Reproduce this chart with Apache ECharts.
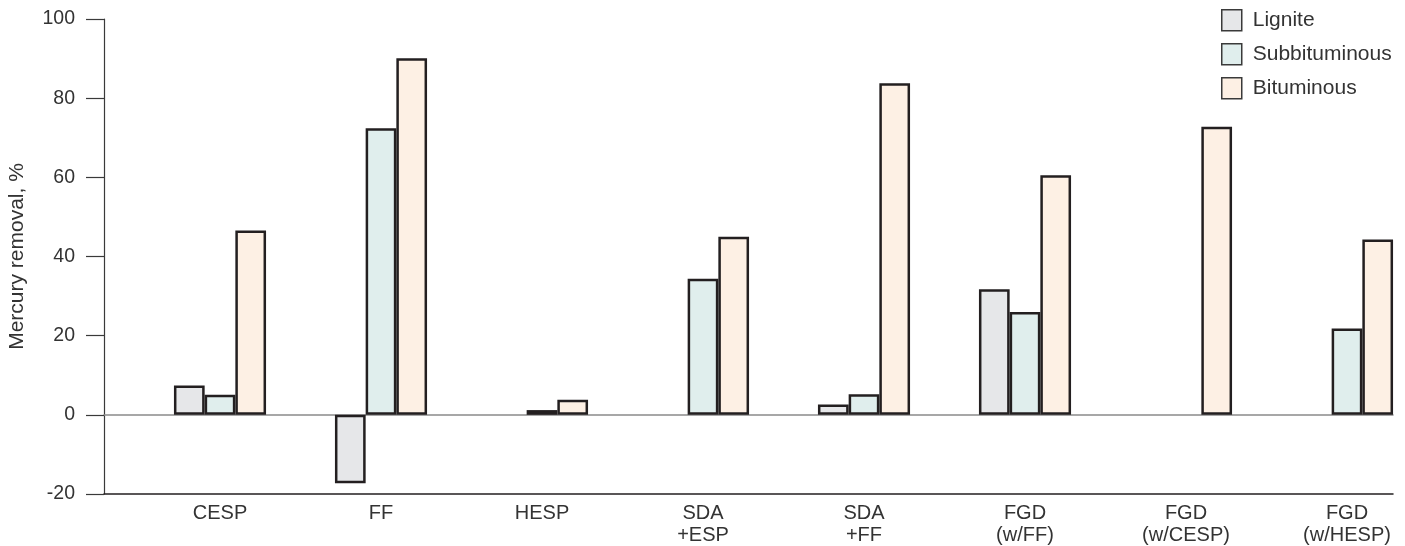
<!DOCTYPE html>
<html>
<head>
<meta charset="utf-8">
<script src="https://cdn.jsdelivr.net/npm/echarts@6/dist/echarts.min.js"></script>
<style>
  html, body { margin: 0; padding: 0; background: #ffffff; }
  #chart { width: 1405px; height: 546px; }
</style>
</head>
<body>
<div id="chart"></div>
<script>
// Control technologies on the category axis
const categories = ['CESP', 'FF', 'HESP', 'SDA\n+ESP', 'SDA\n+FF', 'FGD\n(w/FF)', 'FGD\n(w/CESP)', 'FGD\n(w/HESP)'];

// Mercury removal (%) by coal rank; null = no data
const lignite       = [7.4, -17.3, null, null, 2.6, 31.7, null, null];
const subbituminous = [5.1, 72.4, 1.2, 34.4, 5.2, 26.0, null, 21.8];
const bituminous    = [46.6, 90.1, 3.8, 45.0, 83.8, 60.5, 72.8, 44.3];

const seriesNames = ['Lignite', 'Subbituminous', 'Bituminous'];
const fills = ['#e6e7e9', '#e0eeed', '#fdf0e4'];

const FONT = "'Liberation Sans', Arial, Helvetica, sans-serif";
const TEXT = '#333333';
const EDGE = '#231f20';

const chart = echarts.init(document.getElementById('chart'), null, { renderer: 'canvas' });

function barSeries(name, data, fill) {
  return {
    name: name,
    type: 'bar',
    xAxisIndex: 0,
    yAxisIndex: 0,
    data: data,
    barWidth: 30.7,
    barGap: '0%',
    itemStyle: { color: fill, borderColor: EDGE, borderWidth: 2.5 },
    emphasis: { disabled: true }
  };
}

chart.setOption({
  animation: false,
  backgroundColor: '#ffffff',
  textStyle: { fontFamily: FONT },
  legend: {
    orient: 'vertical',
    left: 1221,
    top: 9,
    padding: 0,
    itemWidth: 20,
    itemHeight: 21,
    itemGap: 11.5,
    icon: 'rect',
    data: seriesNames,
    itemStyle: { borderColor: '#3a3a3a', borderWidth: 1.5 },
    textStyle: { fontFamily: FONT, fontSize: 21, lineHeight: 21, color: TEXT, padding: [0, 0, 0, 6] }
  },
  grid: [
    // bar area: category bands aligned with the bar groups
    { left: 139.5, width: 1288, top: 19, height: 475, containLabel: false, outerBoundsMode: 'none' },
    // frame area: baseline and zero line span the plotted extent
    { left: 104, width: 1289, top: 19, height: 475, containLabel: false, outerBoundsMode: 'none' }
  ],
  xAxis: [
    {
      type: 'category',
      gridIndex: 0,
      data: categories,
      axisLine: { show: false },
      axisTick: { show: false },
      splitLine: { show: false },
      axisLabel: {
        fontFamily: FONT, fontSize: 20, color: TEXT,
        margin: 8, lineHeight: 22, interval: 0
      }
    },
    {
      type: 'value',
      gridIndex: 1,
      position: 'bottom',
      min: 0, max: 1,
      axisLine: { show: true, onZero: false, lineStyle: { color: EDGE, width: 1.5 } },
      axisTick: { show: false },
      axisLabel: { show: false },
      splitLine: { show: false }
    },
    {
      type: 'value',
      gridIndex: 1,
      position: 'top',
      min: 0, max: 1,
      axisLine: { show: true, onZero: true, lineStyle: { color: '#8a8a8a', width: 1.5 } },
      axisTick: { show: false },
      axisLabel: { show: false },
      splitLine: { show: false }
    }
  ],
  yAxis: [
    {
      type: 'value',
      gridIndex: 0,
      min: -20, max: 100, interval: 20,
      offset: 35.5,
      name: 'Mercury removal, %',
      nameLocation: 'middle',
      nameGap: 76,
      nameTextStyle: { fontFamily: FONT, fontSize: 21, color: TEXT },
      axisLine: { show: true, onZero: false, lineStyle: { color: '#3a3a3a', width: 1.2 } },
      axisTick: { show: true, length: 18, lineStyle: { color: '#3a3a3a', width: 1.2 } },
      axisLabel: { fontFamily: FONT, fontSize: 19.5, color: TEXT, margin: 29 },
      splitLine: { show: false }
    },
    {
      type: 'value',
      gridIndex: 1,
      min: -20, max: 100,
      show: false
    }
  ],
  series: [
    barSeries(seriesNames[0], lignite, fills[0]),
    barSeries(seriesNames[1], subbituminous, fills[1]),
    barSeries(seriesNames[2], bituminous, fills[2])
  ]
});
</script>
</body>
</html>
